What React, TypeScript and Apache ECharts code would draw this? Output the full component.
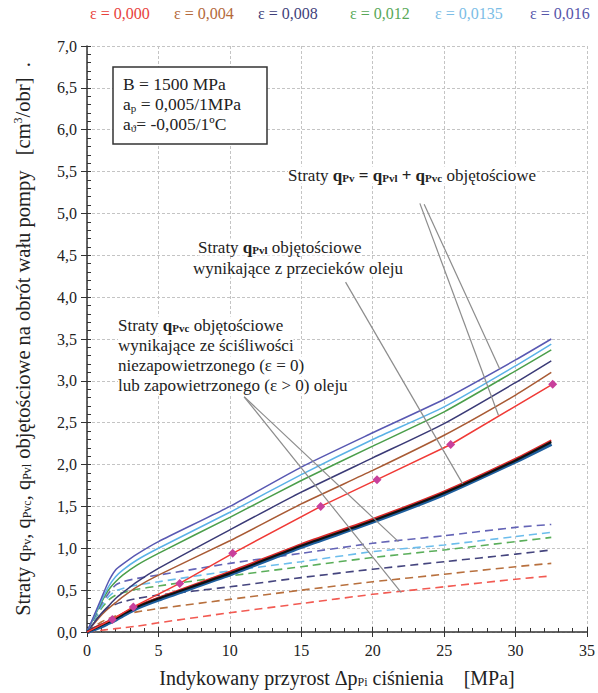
import React, { useEffect, useRef } from "react";
import * as echarts from "echarts";

const FONT = "Liberation Serif";

// ---------- data ----------
const xSteps = [0, 1, 1.5, 2, 2.5, 3.5, 5, 10, 15, 20, 25, 30, 32.5];

// total losses qPv (solid)
const total016 = [0, 0.4, 0.6, 0.74, 0.81, 0.93, 1.08, 1.5, 1.97, 2.38, 2.78, 3.25, 3.5];
const total0135 = [0, 0.37, 0.54, 0.66, 0.74, 0.86, 1.0, 1.43, 1.88, 2.3, 2.69, 3.18, 3.44];
const total012 = [0, 0.35, 0.5, 0.6, 0.68, 0.8, 0.94, 1.37, 1.81, 2.22, 2.63, 3.12, 3.37];
const total008 = [0, 0.22, 0.31, 0.4, 0.47, 0.6, 0.76, 1.22, 1.67, 2.08, 2.49, 2.98, 3.24];
const total004 = [0, 0.2, 0.28, 0.35, 0.42, 0.54, 0.68, 1.09, 1.53, 1.93, 2.35, 2.83, 3.1];

// total losses for eps = 0 (measured points, with markers)
const xTotal000 = [0, 1.77, 3.24, 6.49, 10.2, 16.36, 20.3, 25.46, 32.6];
const total000 = [0, 0.15, 0.3, 0.58, 0.94, 1.5, 1.82, 2.24, 2.96];

// compressibility losses qPvc (dashed)
const comp000 = [0, 0.02, 0.03, 0.04, 0.05, 0.07, 0.11, 0.23, 0.34, 0.45, 0.54, 0.63, 0.67];
const comp004 = [0, 0.12, 0.16, 0.19, 0.21, 0.24, 0.28, 0.39, 0.5, 0.6, 0.69, 0.78, 0.82];
const comp008 = [0, 0.22, 0.29, 0.33, 0.36, 0.4, 0.44, 0.54, 0.65, 0.75, 0.84, 0.93, 0.98];
const comp012 = [0, 0.28, 0.38, 0.44, 0.47, 0.51, 0.55, 0.67, 0.78, 0.89, 0.98, 1.08, 1.13];
const comp0135 = [0, 0.3, 0.42, 0.49, 0.52, 0.56, 0.6, 0.73, 0.84, 0.96, 1.04, 1.14, 1.19];
const comp016 = [0, 0.33, 0.46, 0.56, 0.6, 0.64, 0.68, 0.82, 0.94, 1.06, 1.15, 1.25, 1.285];

// leakage losses qPvl (thick bundle)
const leakBlue = [0, 0.07, 0.11, 0.15, 0.2, 0.29, 0.39, 0.69, 1.02, 1.32, 1.65, 2.04, 2.25];
const leakBlack = [0, 0.08, 0.12, 0.16, 0.21, 0.3, 0.4, 0.7, 1.03, 1.33, 1.66, 2.05, 2.27];
const leakRed = [0, 0.09, 0.13, 0.17, 0.22, 0.31, 0.41, 0.72, 1.05, 1.35, 1.68, 2.07, 2.29];

const legendLabels = ["ε = 0,000", "ε = 0,004", "ε = 0,008", "ε = 0,012", "ε = 0,0135", "ε = 0,016"];
const legendColors = ["#e8423c", "#b4693a", "#3f3f7a", "#58a858", "#7bbde6", "#5656aa"];
const legendX = [90, 174, 258, 350, 435, 530];

const lineColors = {
  e000: "#f03a36",
  e004: "#a85a34",
  e008: "#3a3a76",
  e012: "#4a9e4a",
  e0135: "#5ab2e6",
  e016: "#5858b2",
};

const zip = (xs: number[], ys: number[]) => xs.map((x, i) => [x, ys[i]]);

// leader lines (data coordinates)
const leaders = [
  [[23.3, 5.12], [28.8, 2.59]],
  [[23.6, 5.11], [28.9, 3.14]],
  [[18.1, 4.18], [26.3, 1.77]],
  [[11.0, 2.81], [21.8, 1.08]],
  [[11.0, 2.81], [22.0, 0.47]],
];

export default function App() {
  const ref = useRef<HTMLDivElement>(null);
  useEffect(() => {
    const chart = echarts.init(ref.current!, null, { renderer: "svg" });

    const solid = (name: string, data: number[][], color: string, width = 1.5, z = 3) => ({
      name,
      type: "line",
      data,
      showSymbol: false,
      symbol: "none",
      smooth: 0.2,
      lineStyle: { color, width },
      z,
    });
    const dashed = (name: string, ys: number[], color: string) => ({
      name,
      type: "line",
      data: zip(xSteps, ys),
      symbol: "none",
      smooth: 0.2,
      lineStyle: { color, width: 1.6, type: [8, 5] },
      z: 2,
    });

    const axisCommon = {
      type: "value",
      axisLine: { show: true, lineStyle: { color: "#333", width: 1.5 } },
    };

    chart.setOption({
      animation: false,
      backgroundColor: "#fff",
      grid: { left: 87, right: 11, top: 46, bottom: 59 },
      xAxis: [
        {
          ...axisCommon,
          min: 0,
          max: 35,
          interval: 5,
          name: "Indykowany przyrost Δp{s|Pi} ciśnienia    [MPa]",
          nameLocation: "middle",
          nameGap: 36,
          nameTextStyle: {
            fontFamily: FONT,
            fontSize: 20,
            color: "#222",
            rich: { s: { fontSize: 12, fontFamily: FONT, verticalAlign: "bottom", color: "#222" } },
          },
          axisTick: { length: 5, lineStyle: { color: "#333" } },
          minorTick: { show: false },
          axisLabel: { fontFamily: FONT, fontSize: 16, color: "#222", margin: 10 },
          splitLine: { show: true, lineStyle: { color: "#c4c4c4", type: [3, 2] } },
        },
        {
          ...axisCommon,
          position: "bottom",
          min: 0,
          max: 35,
          interval: 5,
          axisLine: { show: false },
          axisTick: { show: true, inside: true, length: 5, lineStyle: { color: "#333" } },
          minorTick: { show: true, splitNumber: 5, length: 4, lineStyle: { color: "#333" } },
          axisLabel: { show: false },
          splitLine: { show: false },
        },
      ],
      yAxis: [
        {
          ...axisCommon,
          min: 0,
          max: 7,
          interval: 0.5,
          name: "Straty q{s|Pv}, q{s|Pvc}, q{s|Pvl} objętościowe na obrót wału pompy   [cm{sup|3}/obr]  .",
          nameLocation: "middle",
          nameRotate: 90,
          nameGap: 54,
          nameTextStyle: {
            fontFamily: FONT,
            fontSize: 20.5,
            color: "#222",
            rich: {
              s: { fontSize: 12, fontFamily: FONT, verticalAlign: "bottom", color: "#222" },
              sup: { fontSize: 12, fontFamily: FONT, verticalAlign: "top", color: "#222" },
            },
          },
          axisTick: { show: true, length: 6, lineStyle: { color: "#333" } },
          minorTick: { show: false },
          axisLabel: {
            fontFamily: FONT,
            fontSize: 16,
            color: "#222",
            margin: 10,
            formatter: (v: number) => v.toFixed(1).replace(".", ","),
          },
          splitLine: { show: true, lineStyle: { color: "#c4c4c4", type: [3, 2] } },
        },
        {
          ...axisCommon,
          position: "left",
          min: 0,
          max: 7,
          interval: 0.5,
          axisLine: { show: false },
          axisTick: { show: true, inside: true, length: 4, lineStyle: { color: "#333" } },
          minorTick: { show: true, splitNumber: 5, length: 4, lineStyle: { color: "#333" } },
          axisLabel: { show: false },
          splitLine: { show: false },
        },
      ],
      series: [
        dashed("qPvc ε=0,000", comp000, "#f25a52"),
        dashed("qPvc ε=0,004", comp004, "#b8703e"),
        dashed("qPvc ε=0,008", comp008, "#45457e"),
        dashed("qPvc ε=0,012", comp012, "#5aae5a"),
        dashed("qPvc ε=0,0135", comp0135, "#6cbdec"),
        dashed("qPvc ε=0,016", comp016, "#6464b6"),
        solid("qPv ε=0,004", zip(xSteps, total004), lineColors.e004),
        solid("qPv ε=0,008", zip(xSteps, total008), lineColors.e008),
        solid("qPv ε=0,012", zip(xSteps, total012), lineColors.e012),
        solid("qPv ε=0,0135", zip(xSteps, total0135), lineColors.e0135),
        solid("qPv ε=0,016", zip(xSteps, total016), lineColors.e016),
        solid("qPvl blue", zip(xSteps, leakBlue), "#1f5f9e", 4.5, 4),
        solid("qPvl red", zip(xSteps, leakRed), "#d82a2a", 2, 4),
        solid("qPvl black", zip(xSteps, leakBlack), "#111111", 2.2, 5),
        {
          name: "qPv ε=0,000",
          type: "line",
          data: zip(xTotal000, total000).map((p, i) =>
            i === 0 ? { value: p, symbol: "none" } : { value: p }
          ),
          symbol: "diamond",
          symbolSize: 9,
          showSymbol: true,
          itemStyle: { color: "#c8409c" },
          lineStyle: { color: lineColors.e000, width: 1.5 },
          z: 6,
        },
      ],
    });

    const toPx = (pt: number[]) => chart.convertToPixel({ gridIndex: 0 }, pt) as number[];

    const graphic: any[] = [];
    leaders.forEach(([a, b]) => {
      const p1 = toPx(a);
      const p2 = toPx(b);
      graphic.push({
        type: "line",
        shape: { x1: p1[0], y1: p1[1], x2: p2[0], y2: p2[1] },
        style: { stroke: "#8c8c8c", lineWidth: 1.2 },
        z: 10,
      });
    });

    legendLabels.forEach((t, i) => {
      graphic.push({
        type: "text",
        x: legendX[i],
        y: 13,
        style: {
          text: t,
          fill: legendColors[i],
          font: `16px ${FONT}`,
          verticalAlign: "middle",
        },
      });
    });

    // parameter box
    graphic.push({
      type: "rect",
      shape: { x: 113, y: 67, width: 154, height: 77 },
      style: { fill: "#fff", stroke: "#333", lineWidth: 1.5 },
      z: 20,
    });
    const boxRich = {
      s: { fontSize: 11, fontFamily: FONT, verticalAlign: "bottom", fill: "#222" },
    };
    ["B = 1500 MPa", "a{s|p} = 0,005/1MPa", "a{s|ϑ}= -0,005/1ºC"].forEach((t, i) => {
      graphic.push({
        type: "text",
        x: 123,
        y: 84 + i * 20,
        z: 21,
        style: { text: t, font: `17.5px ${FONT}`, fill: "#222", verticalAlign: "middle", rich: boxRich },
      });
    });

    const annRich = {
      b: { fontSize: 17, fontWeight: "bold", fontFamily: FONT, fill: "#222", verticalAlign: "middle" },
      bs: { fontSize: 11, fontWeight: "bold", fontFamily: FONT, fill: "#222", verticalAlign: "bottom" },
      n: { fontSize: 17, fontFamily: FONT, fill: "#222", verticalAlign: "middle" },
    };
    const ann = (x: number, y: number, text: string) =>
      graphic.push({
        type: "text",
        x,
        y,
        z: 15,
        style: {
          text,
          font: `17px ${FONT}`,
          fill: "#222",
          verticalAlign: "middle",
          rich: annRich,
          backgroundColor: "#fff",
        },
      });
    ann(288, 175, "{n|Straty }{b|q}{bs|Pv}{b| = q}{bs|Pvl}{b| + q}{bs|Pvc}{n| objętościowe}");
    ann(198, 247, "{n|Straty }{b|q}{bs|Pvl}{n| objętościowe}");
    ann(193, 268, "{n|wynikające z przecieków oleju}");
    ann(118, 325, "{n|Straty }{b|q}{bs|Pvc}{n| objętościowe}");
    ann(118, 345, "{n|wynikające ze ściśliwości}");
    ann(118, 365, "{n|niezapowietrzonego (ε = 0)}");
    ann(118, 385, "{n|lub zapowietrzonego (ε > 0) oleju}");

    chart.setOption({ graphic });

    return () => chart.dispose();
  }, []);
  return (
    <div
      ref={ref}
      style={{ position: "absolute", left: 0, top: 0, width: 598, height: 693, background: "#fff" }}
    />
  );
}
